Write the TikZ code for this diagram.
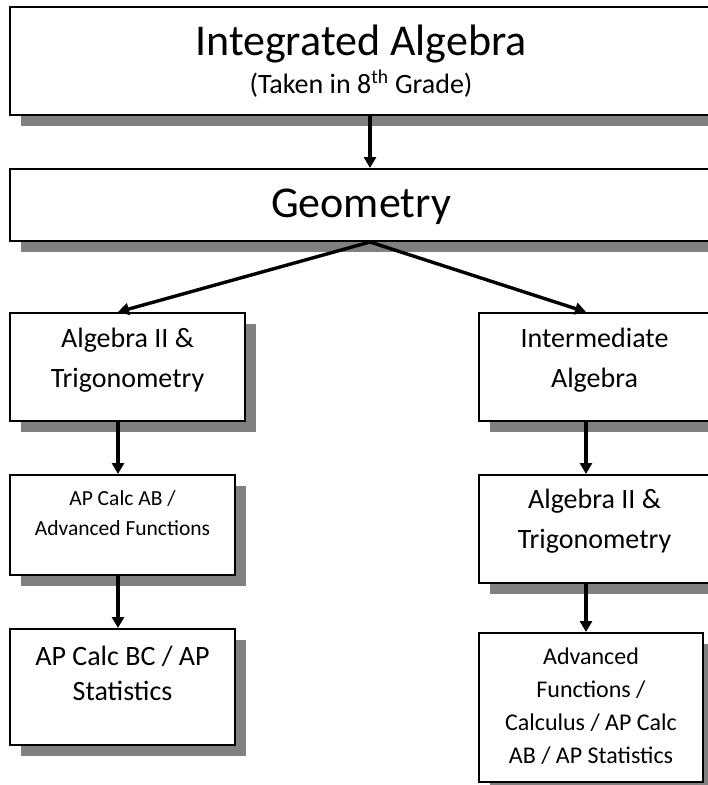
\documentclass[tikz,border=0pt]{standalone}
\usepackage{fontspec}
\setmainfont{Carlito}
\usetikzlibrary{positioning, arrows.meta, shadows}
\tikzset{
  course/.style={draw, line width=2pt, fill=white, inner sep=0pt,
    drop shadow={shadow xshift=11pt, shadow yshift=-11pt, fill=black!50, opacity=1}},
  link/.style={line width=3.4pt, -{Triangle[length=11pt, width=12pt]}},
  lbl/.style={anchor=base, align=center, inner sep=0pt}
}

\begin{document}
\begin{tikzpicture}[x=1pt, y=-1pt]
\useasboundingbox (0,0) rectangle (708,785);

\node[course, minimum width=702pt, minimum height=108pt] (ia) at (361,61) {};
\node[course, minimum width=702pt, minimum height=72pt] (geo) at (361,205) {};
\node[course, minimum width=235pt, minimum height=108pt] (algL) at (127.5,367) {};
\node[course, minimum width=225pt, minimum height=100pt] (calcab) at (122.5,525) {};
\node[course, minimum width=225pt, minimum height=116pt] (calcbc) at (122.5,687) {};
\node[course, minimum width=231pt, minimum height=108pt] (inter) at (594.5,367) {};
\node[course, minimum width=231pt, minimum height=108pt] (algR) at (594.5,529) {};
\node[course, minimum width=224pt, minimum height=149pt] (adv) at (591,707.5) {};

% base anchor sits on the last line
\node[lbl, font=\fontsize{44}{50}\selectfont] (iaT) at (361,55) {Integrated Algebra};
\node[lbl, font=\fontsize{28}{32}\selectfont] (iaS) at (361,93) {(Taken in 8\textsuperscript{th} Grade)};
\node[lbl, font=\fontsize{44}{50}\selectfont] (geoT) at (361,217) {Geometry};
\node[lbl, font=\fontsize{28}{40}\selectfont] (algLT) at (127.5,387) {Algebra II \&\\Trigonometry};
\node[lbl, font=\fontsize{21.5}{30}\selectfont] (calcabT) at (122.5,535) {AP Calc AB /\\Advanced Functions};
\node[lbl, font=\fontsize{28}{35}\selectfont] (calcbcT) at (122.5,700) {AP Calc BC / AP\\Statistics};
\node[lbl, font=\fontsize{28}{40}\selectfont] (interT) at (594.5,387) {Intermediate\\Algebra};
\node[lbl, font=\fontsize{28}{40}\selectfont] (algRT) at (594.5,548) {Algebra II \&\\Trigonometry};
\node[lbl, font=\fontsize{24}{33}\selectfont] (advT) at (591,763) {Advanced\\Functions /\\Calculus / AP Calc\\AB / AP Statistics};

\coordinate (mid) at (370,0);
\coordinate (colL) at (118,0);
\coordinate (colR) at (586,0);

\draw[link] (ia.south -| mid) -- (geo.north -| mid);
\draw[link] (geo.south -| mid) -- (algL.north -| colL);
\draw[link] (geo.south -| mid) -- (inter.north -| colR);
\draw[link] (algL.south -| colL) -- (calcab.north -| colL);
\draw[link] (calcab.south -| colL) -- (calcbc.north -| colL);
\draw[link] (inter.south -| colR) -- (algR.north -| colR);
\draw[link] (algR.south -| colR) -- (adv.north -| colR);
\end{tikzpicture}
\end{document}
